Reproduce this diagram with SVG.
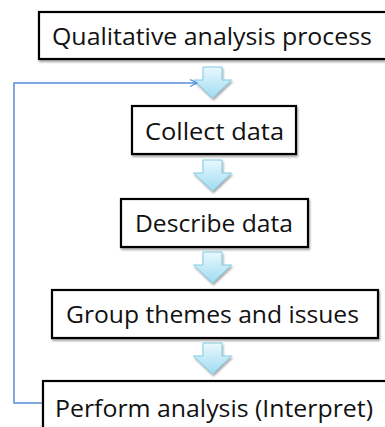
<svg xmlns="http://www.w3.org/2000/svg" width="385" height="427" viewBox="0 0 385 427">
  <defs>
    <linearGradient id="arrowFill" x1="0" y1="0" x2="0" y2="1">
      <stop offset="0" stop-color="#eaf8fd"/>
      <stop offset="1" stop-color="#9fdcf1"/>
    </linearGradient>
    <filter id="shadow" x="-10%" y="-20%" width="120%" height="150%">
      <feGaussianBlur in="SourceAlpha" stdDeviation="1"/>
      <feOffset dx="0.5" dy="1.5" result="b"/>
      <feComponentTransfer><feFuncA type="linear" slope="0.35"/></feComponentTransfer>
      <feMerge><feMergeNode/><feMergeNode in="SourceGraphic"/></feMerge>
    </filter>
    <!-- block arrow pointing down, centred on x=0, top at y=0 -->
    <path id="blockArrow" d="M-9.5,0 H9.5 V13 H19 L0,31 L-19,13 H-9.5 Z"/>
    <marker id="openHead" markerWidth="10" markerHeight="10" refX="8" refY="5" orient="auto" markerUnits="userSpaceOnUse">
      <path d="M1,1.5 L8,5 L1,8.5" fill="none" stroke="#5b8fd6" stroke-width="1.3"/>
    </marker>
    <style>
      .box { fill: #ffffff; stroke: #000000; stroke-width: 2.2; filter: url(#shadow); }
      .label { font-family: "Open Sans", "Liberation Sans", sans-serif; font-size: 23.5px; fill: #111111; }
      .down { fill: url(#arrowFill); stroke: #7ccae4; stroke-width: 1; filter: url(#shadow); }
      .feedback { fill: none; stroke: #5b8fd6; stroke-width: 1.5; }
    </style>
  </defs>

  <!-- flow arrows and the loop back from the last step -->
  <g id="connectors">
    <use href="#blockArrow" class="down" x="212.5" y="67"/>
    <use href="#blockArrow" class="down" x="212.5" y="160"/>
    <use href="#blockArrow" class="down" x="212.5" y="252"/>
    <use href="#blockArrow" class="down" x="212.5" y="343"/>
    <polyline class="feedback" points="43,403 14,403 14,83 197,83" marker-end="url(#openHead)"/>
  </g>

  <g id="title">
    <rect class="box" x="39" y="12" width="360" height="47"/>
    <text class="label" x="52" y="44.5" textLength="320" lengthAdjust="spacingAndGlyphs">Qualitative analysis process</text>
  </g>

  <g id="collect">
    <rect class="box" x="132" y="106" width="164" height="48"/>
    <text class="label" x="145" y="139.5" textLength="139" lengthAdjust="spacingAndGlyphs">Collect data</text>
  </g>

  <g id="describe">
    <rect class="box" x="121" y="199" width="187" height="48"/>
    <text class="label" x="135" y="231.5" textLength="158" lengthAdjust="spacingAndGlyphs">Describe data</text>
  </g>

  <g id="group">
    <rect class="box" x="52" y="290" width="326" height="48"/>
    <text class="label" x="66" y="323" textLength="293" lengthAdjust="spacingAndGlyphs">Group themes and issues</text>
  </g>

  <g id="perform">
    <rect class="box" x="43" y="381" width="360" height="60"/>
    <text class="label" x="55" y="416.5" textLength="318" lengthAdjust="spacingAndGlyphs">Perform analysis (Interpret)</text>
  </g>
</svg>
